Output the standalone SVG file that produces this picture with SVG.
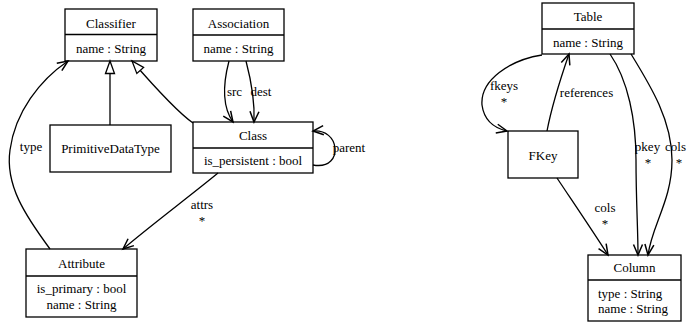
<svg xmlns="http://www.w3.org/2000/svg" width="687" height="322" viewBox="0 0 687 322">
<style>
text{font-family:"Times New Roman",Times,"Liberation Serif","Noto Serif","DejaVu Serif",serif;font-size:13px;fill:#000}
.c{text-anchor:middle}
.box{fill:#fff;stroke:#000;stroke-width:1.3}
.sep{stroke:#000;stroke-width:1.3}
.e{fill:none;stroke:#000;stroke-width:1.3}
.open{marker-end:url(#open)}
.inh{marker-end:url(#tri)}
</style>
<defs>
<marker id="open" markerUnits="userSpaceOnUse" markerWidth="14" markerHeight="12" refX="11" refY="5" orient="auto" overflow="visible">
<path d="M0.5,0.5 L11,5 L0.5,9.5" fill="none" stroke="#000" stroke-width="1.5"/>
</marker>
<marker id="tri" markerUnits="userSpaceOnUse" markerWidth="16" markerHeight="12" refX="13" refY="5" orient="auto" overflow="visible">
<path d="M0.5,0.5 L13,5 L0.5,9.5 Z" fill="#fff" stroke="#000" stroke-width="1.3"/>
</marker>
</defs>
<g id="Classifier">
<rect class="box" x="65" y="9" width="92" height="52"/>
<line class="sep" x1="65" y1="34.5" x2="157" y2="34.5"/>
<text class="c" x="111" y="27.5">Classifier</text>
<text class="c" x="111" y="53">name : String</text>
</g>
<g id="Association">
<rect class="box" x="193" y="9" width="91" height="52"/>
<line class="sep" x1="193" y1="35" x2="284" y2="35"/>
<text class="c" x="238.5" y="27.5">Association</text>
<text class="c" x="238.5" y="53">name : String</text>
</g>
<g id="Class">
<rect class="box" x="193" y="122" width="120" height="51"/>
<line class="sep" x1="193" y1="148" x2="313" y2="148"/>
<text class="c" x="253" y="139.5">Class</text>
<text class="c" x="253" y="165">is_persistent : bool</text>
</g>
<g id="PrimitiveDataType">
<rect class="box" x="50" y="125" width="121" height="47"/>
<text class="c" x="110.5" y="152.5">PrimitiveDataType</text>
</g>
<g id="Attribute">
<rect class="box" x="26" y="249" width="111" height="68"/>
<line class="sep" x1="26" y1="276" x2="137" y2="276"/>
<text class="c" x="81.5" y="267.5">Attribute</text>
<text class="c" x="81.5" y="292.5">is_primary : bool</text>
<text class="c" x="81.5" y="308.5">name : String</text>
</g>
<g id="Table">
<rect class="box" x="542" y="3" width="92" height="51"/>
<line class="sep" x1="542" y1="29" x2="634" y2="29"/>
<text class="c" x="588" y="20.5">Table</text>
<text class="c" x="588" y="46.5">name : String</text>
</g>
<g id="FKey">
<rect class="box" x="508" y="131" width="70" height="47"/>
<text class="c" x="543" y="159.5">FKey</text>
</g>
<g id="Column">
<rect class="box" x="588" y="255" width="93" height="66"/>
<line class="sep" x1="588" y1="280" x2="681" y2="280"/>
<text class="c" x="634.5" y="271.5">Column</text>
<text x="598" y="298">type : String</text>
<text x="598" y="312.5">name : String</text>
</g>

<g id="connectors">
<path class="e inh" d="M110,125 L110,61"/>
<path class="e inh" d="M193,123 C176,111 152,84 132,61"/>
<path class="e open" d="M50,249 C25,215 5,185 10,150 C15,112 40,80 68,61"/>
<text class="c" x="31" y="151">type</text>
<path class="e open" d="M229,61 C224,80 221,105 233,122"/>
<text class="c" x="234.5" y="96">src</text>
<path class="e open" d="M246,61 C251,80 255,100 254,122"/>
<text class="c" x="261" y="96">dest</text>
<path class="e open" d="M313,165 C330,168 336,157 335,148 C334,138 326,130 313,131"/>
<text class="c" x="349" y="152">parent</text>
<path class="e open" d="M218,173 C190,196 150,226 123,249"/>
<text class="c" x="202" y="209">attrs</text>
<text class="c" x="202" y="224.5">*</text>

<path class="e open" d="M542,55 C510,60 480,80 482,105 C484,120 494,128 507,131"/>
<text class="c" x="504" y="90">fkeys</text>
<text class="c" x="504" y="105.5">*</text>
<path class="e open" d="M547,131 C552,105 560,80 569,54"/>
<text class="c" x="586.5" y="97">references</text>
<path class="e open" d="M610,54 C628,80 636,120 636,160 C636,200 638,230 638,255"/>
<text class="c" x="647.5" y="151">pkey</text>
<text class="c" x="648" y="166.5">*</text>
<path class="e open" d="M631,54 C650,85 672,120 672,160 C672,200 652,225 648,255"/>
<text class="c" x="675.5" y="151">cols</text>
<text class="c" x="679" y="166.5">*</text>
<path class="e open" d="M557,178 C575,205 592,230 608,255"/>
<text class="c" x="605" y="212">cols</text>
<text class="c" x="605" y="227.5">*</text>
</g>
</svg>
